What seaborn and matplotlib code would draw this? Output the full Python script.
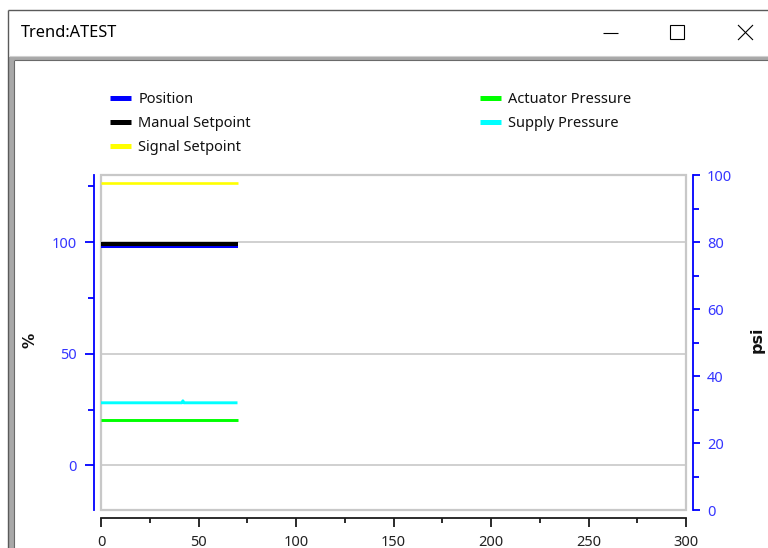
import matplotlib
matplotlib.use("Agg")
import matplotlib.pyplot as plt
import seaborn as sns
import pandas as pd
from matplotlib.lines import Line2D
from matplotlib.patches import Rectangle
from matplotlib.ticker import MultipleLocator

# ---- trend data -------------------------------------------------------------
time_s = [0, 10, 20, 30, 40, 41.5, 42, 42.5, 50, 60, 70]

position_pct = [98.3, 98.3, 98.3, 98.3, 98.3, 98.3, 98.3, 98.3, 98.3, 98.3, 98.3]
manual_setpoint_pct = [99.2, 99.2, 99.2, 99.2, 99.2, 99.2, 99.2, 99.2, 99.2, 99.2, 99.2]
signal_setpoint_pct = [126.5, 126.5, 126.5, 126.5, 126.5, 126.5, 126.5, 126.5, 126.5, 126.5, 126.5]

actuator_pressure_psi = [27.0, 27.0, 27.0, 27.0, 27.0, 27.0, 27.0, 27.0, 27.0, 27.0, 27.0]
supply_pressure_psi = [32.0, 32.0, 32.0, 32.0, 32.0, 32.0, 32.6, 32.0, 32.0, 32.0, 32.0]

pct_ticks = [0, 50, 100]
psi_ticks = [0, 20, 40, 60, 80, 100]
time_ticks = [0, 50, 100, 150, 200, 250, 300]

series_pct = [
    ("Position", position_pct, "#0000ff", 2.9),
    ("Manual Setpoint", manual_setpoint_pct, "#000000", 2.9),
    ("Signal Setpoint", signal_setpoint_pct, "#ffff00", 1.9),
]
series_psi = [
    ("Actuator Pressure", actuator_pressure_psi, "#00ff00", 2.1),
    ("Supply Pressure", supply_pressure_psi, "#00ffff", 2.1),
]

# ---- figure -----------------------------------------------------------------
W, H = 768, 548
PX = 0.72  # points per pixel at 100 dpi
sns.set_theme(style="white")
plt.rcParams["font.family"] = ["Noto Sans", "DejaVu Sans"]
plt.rcParams["axes.unicode_minus"] = False

fig = plt.figure(figsize=(W / 100, H / 100), dpi=100)
fig.patch.set_facecolor("white")


def fx(x):
    return x / W


def fy(y):
    return 1 - y / H


def fline(xs, ys, color, lw):
    fig.add_artist(Line2D([fx(v) for v in xs], [fy(v) for v in ys],
                          transform=fig.transFigure, color=color, lw=lw,
                          solid_capstyle="butt"))


def frect(x0, y0, x1, y1, color):
    fig.add_artist(Rectangle((fx(x0), fy(y1)), fx(x1) - fx(x0), fy(y0) - fy(y1),
                             transform=fig.transFigure, facecolor=color,
                             edgecolor="none"))


# window frame and title bar
fline([8, 768], [10, 10], "#5a5a5a", 1.0)
fline([8, 8], [10, 548], "#5a5a5a", 1.0)
fline([9, 768], [56, 56], "#d0d0d0", 0.8)
frect(9, 57, 768, 60, "#a8a8a8")
frect(9, 57, 14, 548, "#a8a8a8")
fline([14, 14], [60, 548], "#6a6a6a", 0.8)
fline([14, 768], [60, 60], "#6a6a6a", 0.8)

fig.text(fx(21), fy(33), "Trend:ATEST", ha="left", va="center",
         fontsize=11.8, color="#000000")
fline([603, 618], [33, 33], "#000000", 0.8)
fig.add_artist(Rectangle((fx(670), fy(39)), fx(684) - fx(670), fy(25) - fy(39),
                         transform=fig.transFigure, facecolor="none",
                         edgecolor="#000000", lw=0.8))
fline([738, 753], [25, 40], "#000000", 0.8)
fline([738, 753], [40, 25], "#000000", 0.8)

# ---- plot area --------------------------------------------------------------
x0, x1, y0, y1 = 101, 686, 175, 510
ax = fig.add_axes([fx(x0), fy(y1), fx(x1) - fx(x0), fy(y0) - fy(y1)])
ax2 = ax.twinx()

for name, vals, color, lw in series_pct:
    df = pd.DataFrame({"time": time_s, "value": vals})
    sns.lineplot(data=df, x="time", y="value", ax=ax, color=color, lw=lw,
                 legend=False, solid_capstyle="butt")
for name, vals, color, lw in series_psi:
    df = pd.DataFrame({"time": time_s, "value": vals})
    sns.lineplot(data=df, x="time", y="value", ax=ax2, color=color, lw=lw,
                 legend=False, solid_capstyle="butt")

ax.set_xlim(0, 300)
ax.set_ylim(-20, 130)
ax2.set_ylim(0, 100)
ax.set_xlabel("")
ax.set_ylabel("")
ax2.set_ylabel("")

# horizontal grid on the percent scale
for v in pct_ticks:
    ax.axhline(v, color="#c8c8c8", lw=1.2, zorder=0)

# plot frame
ax.add_patch(Rectangle((0, 0), 1, 1, transform=ax.transAxes, fill=False,
                       edgecolor="#c8c8c8", lw=1.6, zorder=0.5, clip_on=False))

blue = "#0000ff"
label_blue = "#3535ff"

for sp in ["top", "right", "left", "bottom"]:
    ax.spines[sp].set_visible(False)
    ax2.spines[sp].set_visible(False)

ax.spines["left"].set_visible(True)
ax.spines["left"].set_position(("outward", 7 * PX))
ax.spines["left"].set_color(blue)
ax.spines["left"].set_linewidth(1.3)

ax.spines["bottom"].set_visible(True)
ax.spines["bottom"].set_position(("outward", 8 * PX))
ax.spines["bottom"].set_color("#1a1a1a")
ax.spines["bottom"].set_linewidth(1.3)

ax2.spines["right"].set_visible(True)
ax2.spines["right"].set_position(("outward", 7 * PX))
ax2.spines["right"].set_color(blue)
ax2.spines["right"].set_linewidth(1.3)

ax.set_yticks(pct_ticks)
ax.yaxis.set_minor_locator(MultipleLocator(25))
ax.tick_params(axis="y", which="major", direction="out", length=9 * PX, width=1.3,
               color=blue, labelcolor=label_blue, labelsize=10.5, pad=8 * PX,
               left=True)
ax.tick_params(axis="y", which="minor", direction="out", length=6 * PX, width=1.3,
               color=blue, left=True)

ax2.set_yticks(psi_ticks)
ax2.yaxis.set_minor_locator(MultipleLocator(10))
ax2.tick_params(axis="y", which="major", direction="out", length=7 * PX, width=1.3,
                color=blue, labelcolor=label_blue, labelsize=10.5, pad=7 * PX,
                right=True)
ax2.tick_params(axis="y", which="minor", direction="out", length=6 * PX, width=1.3,
                color=blue, right=True)

ax.set_xticks(time_ticks)
ax.xaxis.set_minor_locator(MultipleLocator(25))
ax.tick_params(axis="x", which="major", direction="out", length=9 * PX, width=1.3,
               color="#1a1a1a", labelcolor="#222222", labelsize=10.5, pad=8 * PX,
               bottom=True)
ax.tick_params(axis="x", which="minor", direction="out", length=5 * PX, width=1.3,
               color="#1a1a1a", bottom=True)

# axis titles
fig.text(fx(30), fy(340), "%", rotation=90, ha="center", va="center",
         fontsize=11, fontweight="bold", family="DejaVu Sans", color="#111111")
fig.text(fx(757), fy(340), "psi", rotation=90, ha="center", va="center",
         fontsize=11.5, fontweight="bold", family="DejaVu Sans", color="#111111")

# ---- legend -----------------------------------------------------------------
def handles_for(series):
    return [Line2D([], [], color=c, lw=3.6, solid_capstyle="butt")
            for _, _, c, _ in series]


legend_kw = dict(loc="upper left", frameon=False, fontsize=10.5,
                 handlelength=1.45, handletextpad=0.5, labelspacing=0.62,
                 borderpad=0, borderaxespad=0, labelcolor="#111111")
fig.legend(handles_for(series_pct), [s[0] for s in series_pct],
           bbox_to_anchor=(fx(110), fy(92)), **legend_kw)
fig.legend(handles_for(series_psi), [s[0] for s in series_psi],
           bbox_to_anchor=(fx(480), fy(92)), **legend_kw)

fig.savefig("out.png", dpi=100, facecolor="white")
